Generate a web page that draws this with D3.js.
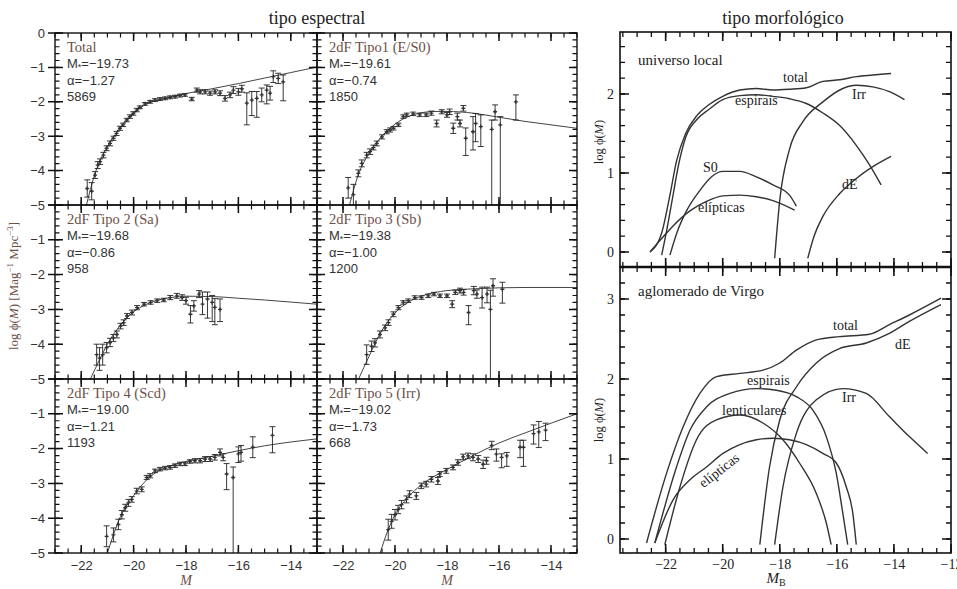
<!DOCTYPE html>
<html><head><meta charset="utf-8">
<script src="https://cdn.jsdelivr.net/npm/d3@7"></script>
<style>body{margin:0;background:#fff}svg{display:block}</style>
</head><body>
<svg id="c" width="957" height="589"></svg>
<script>
// ---------------- DATA ----------------
const panelTitles = ["Total","2dF Tipo1 (E/S0)","2dF Tipo 2 (Sa)","2dF Tipo 3 (Sb)","2dF Tipo 4 (Scd)","2dF Tipo 5 (Irr)"];
const panelMstar = ["−19.73","−19.61","−19.68","−19.38","−19.00","−19.02"];
const panelAlpha = ["−1.27","−0.74","−0.86","−1.00","−1.21","−1.73"];
const panelN = ["5869","1850","958","1200","1193","668"];

const t0M = [-21.77,-21.6,-21.47,-21.37,-21.28,-21.15,-21.03,-20.9,-20.77,-20.65,-20.52,-20.4,-20.26,-20.14,-20.01,-19.88,-19.76,-19.56,-19.37,-19.18,-18.99,-18.8,-18.61,-18.42,-18.23,-18.04,-17.78,-17.59,-17.46,-17.27,-17.08,-16.89,-16.7,-16.51,-16.32,-16.19,-16.0,-15.87,-15.68,-15.49,-15.3,-15.11,-14.92,-14.79,-14.67,-14.48,-14.29];
const t0V = [-4.52,-4.6,-4.13,-3.84,-3.74,-3.55,-3.35,-3.21,-3.06,-2.92,-2.77,-2.67,-2.53,-2.43,-2.34,-2.24,-2.16,-2.06,-2.0,-1.95,-1.92,-1.9,-1.87,-1.85,-1.82,-1.8,-1.92,-1.66,-1.71,-1.71,-1.75,-1.71,-1.75,-1.9,-1.8,-1.66,-1.71,-1.62,-2.04,-1.95,-1.9,-1.8,-1.66,-1.75,-1.27,-1.32,-1.42];
const t0Lo = [0.25,0.25,0.1,0.1,0.08,0.08,0.07,0.07,0.06,0.06,0.06,0.05,0.05,0.05,0.05,0.05,0.04,0.04,0.04,0.04,0.04,0.04,0.04,0.04,0.04,0.04,0.05,0.06,0.06,0.06,0.06,0.06,0.07,0.08,0.08,0.1,0.1,0.1,0.63,0.45,0.55,0.2,0.4,0.2,0.17,0.15,0.55];
const t0Hi = [0.25,0.25,0.1,0.1,0.08,0.08,0.07,0.07,0.06,0.06,0.06,0.05,0.05,0.05,0.05,0.05,0.04,0.04,0.04,0.04,0.04,0.04,0.04,0.04,0.04,0.04,0.05,0.06,0.06,0.06,0.06,0.06,0.07,0.08,0.08,0.1,0.1,0.1,0.3,0.25,0.2,0.2,0.15,0.2,0.17,0.15,0.2];
const f0M = [-21.8,-21.5,-21.0,-20.5,-20.0,-19.5,-19.0,-18.5,-18.0,-17.0,-16.0,-15.0,-14.0,-13.0];
const f0V = [-5.0,-4.15,-3.3,-2.75,-2.33,-2.06,-1.93,-1.84,-1.76,-1.62,-1.47,-1.31,-1.15,-0.99];

const t1M = [-21.8,-21.6,-21.41,-21.28,-21.09,-20.96,-20.83,-20.7,-20.5,-20.32,-20.19,-20.06,-19.87,-19.68,-19.55,-19.3,-19.05,-18.8,-18.6,-18.4,-18.2,-18.0,-17.9,-17.76,-17.6,-17.5,-17.37,-17.28,-17.0,-16.9,-16.7,-16.28,-16.15,-15.95,-15.35];
const t1V = [-4.5,-4.7,-4.08,-3.79,-3.55,-3.45,-3.33,-3.21,-3.02,-2.87,-2.82,-2.77,-2.67,-2.43,-2.38,-2.35,-2.38,-2.38,-2.33,-2.63,-2.29,-2.38,-2.29,-2.77,-2.43,-2.63,-2.19,-3.06,-2.87,-2.63,-2.72,-2.8,-2.29,-2.67,-2.0];
const t1Lo = [0.3,0.3,0.1,0.1,0.08,0.08,0.07,0.07,0.06,0.06,0.06,0.05,0.05,0.05,0.05,0.05,0.05,0.05,0.06,0.1,0.06,0.07,0.08,0.15,0.1,0.1,0.08,0.5,0.53,0.53,0.58,2.2,0.24,2.33,0.53];
const t1Hi = [0.3,0.3,0.1,0.1,0.08,0.08,0.07,0.07,0.06,0.06,0.06,0.05,0.05,0.05,0.05,0.05,0.05,0.05,0.06,0.1,0.06,0.07,0.08,0.15,0.1,0.1,0.08,0.3,0.44,0.29,0.34,0.27,0.2,0.24,0.2];
const f1M = [-21.75,-21.4,-21.0,-20.5,-20.0,-19.5,-19.0,-18.5,-18.0,-17.0,-16.0,-15.0,-14.0,-13.0];
const f1V = [-5.0,-4.1,-3.5,-3.0,-2.65,-2.43,-2.32,-2.28,-2.28,-2.33,-2.45,-2.57,-2.67,-2.77];

const t2M = [-21.41,-21.3,-21.18,-21.03,-20.9,-20.77,-20.64,-20.5,-20.38,-20.25,-20.06,-19.87,-19.6,-19.35,-19.1,-18.85,-18.6,-18.35,-18.15,-18.0,-17.83,-17.7,-17.5,-17.37,-17.18,-17.0,-16.9,-16.7];
const t2V = [-4.3,-4.4,-4.3,-4.1,-3.95,-3.82,-3.72,-3.48,-3.38,-3.19,-3.09,-2.95,-2.85,-2.8,-2.75,-2.73,-2.66,-2.61,-2.66,-2.75,-3.14,-2.9,-2.56,-2.85,-2.7,-2.8,-2.94,-3.0];
const t2Lo = [0.3,0.35,0.3,0.15,0.12,0.1,0.1,0.08,0.08,0.07,0.07,0.06,0.05,0.05,0.05,0.05,0.06,0.07,0.08,0.1,0.25,0.15,0.1,0.3,0.55,0.55,0.5,0.35];
const t2Hi = [0.3,0.3,0.3,0.15,0.12,0.1,0.1,0.08,0.08,0.07,0.07,0.06,0.05,0.05,0.05,0.05,0.06,0.07,0.08,0.1,0.25,0.15,0.1,0.35,0.2,0.2,0.25,0.3];
const f2M = [-21.65,-21.3,-21.0,-20.5,-20.0,-19.5,-19.0,-18.5,-18.0,-17.0,-16.0,-15.0,-14.0,-13.0];
const f2V = [-5.0,-4.45,-4.0,-3.45,-3.07,-2.85,-2.72,-2.65,-2.62,-2.63,-2.68,-2.73,-2.79,-2.85];

const t3M = [-21.09,-20.9,-20.77,-20.58,-20.38,-20.25,-20.06,-19.87,-19.68,-19.49,-19.24,-18.98,-18.72,-18.5,-18.27,-18.0,-17.8,-17.68,-17.5,-17.36,-17.17,-16.97,-16.85,-16.65,-16.46,-16.33,-16.23,-15.87];
const t3V = [-4.3,-4.06,-3.96,-3.72,-3.53,-3.38,-3.14,-2.95,-2.8,-2.75,-2.66,-2.66,-2.61,-2.56,-2.61,-2.61,-2.85,-2.51,-2.46,-2.51,-3.09,-2.46,-2.56,-2.66,-2.56,-3.0,-2.32,-2.42];
const t3Lo = [0.28,0.15,0.12,0.1,0.08,0.08,0.07,0.06,0.05,0.05,0.05,0.05,0.05,0.05,0.05,0.05,0.1,0.06,0.07,0.08,0.35,0.12,0.12,0.3,0.25,2.0,0.3,0.4];
const t3Hi = [0.28,0.15,0.12,0.1,0.08,0.08,0.07,0.06,0.05,0.05,0.05,0.05,0.05,0.05,0.05,0.05,0.1,0.06,0.07,0.08,0.2,0.12,0.12,0.3,0.2,0.55,0.2,0.2];
const f3M = [-21.4,-21.0,-20.5,-20.0,-19.5,-19.0,-18.5,-18.0,-17.0,-16.0,-15.0,-14.0,-13.0];
const f3V = [-5.0,-4.35,-3.6,-3.1,-2.8,-2.62,-2.52,-2.46,-2.41,-2.38,-2.37,-2.37,-2.37];

const t4M = [-21.03,-20.77,-20.58,-20.45,-20.32,-20.2,-20.07,-19.88,-19.69,-19.5,-19.37,-19.18,-18.99,-18.8,-18.61,-18.42,-18.23,-18.04,-17.85,-17.66,-17.46,-17.27,-17.08,-16.9,-16.7,-16.58,-16.45,-16.2,-16.0,-15.9,-15.45,-14.7];
const t4V = [-4.52,-4.48,-4.18,-3.9,-3.7,-3.56,-3.46,-3.22,-3.17,-2.83,-2.78,-2.64,-2.59,-2.56,-2.54,-2.49,-2.44,-2.44,-2.37,-2.35,-2.35,-2.3,-2.3,-2.25,-2.11,-2.25,-2.73,-2.83,-2.15,-2.11,-1.96,-1.62];
const t4Lo = [0.3,0.2,0.15,0.12,0.1,0.1,0.08,0.08,0.07,0.06,0.06,0.05,0.05,0.05,0.05,0.05,0.05,0.05,0.05,0.06,0.06,0.07,0.07,0.08,0.1,0.1,0.45,2.2,0.25,0.25,0.3,0.5];
const t4Hi = [0.3,0.2,0.15,0.12,0.1,0.1,0.08,0.08,0.07,0.06,0.06,0.05,0.05,0.05,0.05,0.05,0.05,0.05,0.05,0.06,0.06,0.07,0.07,0.08,0.1,0.1,0.3,0.3,0.2,0.2,0.3,0.25];
const f4M = [-21.0,-20.5,-20.0,-19.5,-19.0,-18.5,-18.0,-17.0,-16.0,-15.0,-14.0,-13.0];
const f4V = [-5.0,-3.95,-3.35,-2.9,-2.62,-2.47,-2.37,-2.22,-2.06,-1.92,-1.81,-1.72];

const t5M = [-20.26,-20.13,-20.0,-19.88,-19.75,-19.56,-19.44,-19.18,-18.99,-18.8,-18.6,-18.35,-18.28,-18.03,-17.77,-17.58,-17.38,-17.19,-17.0,-16.8,-16.61,-16.48,-16.28,-16.1,-15.9,-15.7,-15.19,-15.06,-14.67,-14.47,-14.21];
const t5V = [-4.33,-4.09,-3.9,-3.75,-3.61,-3.46,-3.31,-3.36,-3.07,-3.02,-2.88,-2.93,-2.73,-2.64,-2.54,-2.4,-2.24,-2.21,-2.25,-2.3,-2.45,-2.35,-1.91,-2.16,-2.25,-2.21,-1.96,-1.96,-1.57,-1.52,-1.47];
const t5Lo = [0.3,0.2,0.15,0.12,0.12,0.1,0.1,0.1,0.08,0.08,0.08,0.1,0.07,0.07,0.07,0.08,0.08,0.08,0.1,0.1,0.12,0.1,0.12,0.2,0.3,0.3,0.3,0.55,0.3,0.45,0.3];
const t5Hi = [0.3,0.2,0.15,0.12,0.12,0.1,0.1,0.1,0.08,0.08,0.08,0.1,0.07,0.07,0.07,0.08,0.08,0.08,0.1,0.1,0.12,0.1,0.12,0.15,0.1,0.1,0.2,0.2,0.25,0.3,0.2];
const f5M = [-20.57,-20.3,-20.0,-19.5,-19.0,-18.5,-18.0,-17.0,-16.0,-15.0,-14.0,-13.0];
const f5V = [-5.0,-4.4,-3.9,-3.4,-3.05,-2.8,-2.6,-2.2,-1.84,-1.55,-1.27,-1.0];

// morphological type: local universe
const lTotM = [-22.55,-22.14,-21.85,-21.62,-21.3,-20.9,-20.5,-20.0,-19.4,-18.82,-18.24,-17.66,-17.07,-16.49,-15.9,-15.32,-14.74,-14.1];
const lTotV = [0,0.24,0.72,1.15,1.5,1.73,1.86,1.97,2.05,2.07,2.05,2.06,2.08,2.16,2.18,2.22,2.24,2.26];
const lSpM = [-22.14,-21.95,-21.75,-21.55,-21.3,-20.9,-20.5,-20.0,-19.4,-18.82,-18.24,-17.66,-17.07,-16.49,-15.9,-15.32,-14.85,-14.45];
const lSpV = [-0.04,0.3,0.7,1.1,1.45,1.68,1.8,1.93,1.98,1.99,1.97,1.94,1.88,1.76,1.6,1.35,1.1,0.85];
const lIrrM = [-18.18,-18.0,-17.66,-17.19,-16.49,-15.79,-15.32,-14.74,-14.16,-13.63];
const lIrrV = [-0.08,0.66,1.3,1.65,1.9,2.07,2.11,2.09,2.03,1.93];
const lDeM = [-17.02,-16.8,-16.49,-15.9,-15.32,-14.74,-14.1];
const lDeV = [-0.08,0.2,0.45,0.74,0.93,1.08,1.21];
const lS0M = [-21.85,-21.6,-21.27,-20.8,-20.4,-19.99,-19.4,-18.82,-18.24,-17.66,-17.42];
const lS0V = [-0.04,0.25,0.52,0.78,0.95,1.02,1.02,0.95,0.85,0.72,0.58];
const lElM = [-22.55,-22.14,-21.74,-21.15,-20.57,-19.99,-19.4,-18.82,-18.24,-17.48];
const lElV = [0,0.17,0.33,0.52,0.64,0.71,0.72,0.7,0.65,0.53];

// Virgo cluster
const vTotM = [-22.67,-21.97,-21.39,-20.8,-20.22,-19.4,-18.59,-18.0,-17.42,-16.72,-15.91,-14.86,-14.16,-13.46,-12.35];
const vTotV = [-0.05,0.82,1.4,1.82,2.03,2.07,2.11,2.2,2.36,2.49,2.53,2.56,2.68,2.8,3.01];
const vDeM = [-18.7,-18.36,-18.0,-17.42,-16.72,-15.91,-14.97,-14.16,-13.46,-12.35];
const vDeV = [-0.07,0.9,1.49,1.9,2.2,2.38,2.45,2.57,2.72,2.93];
const vIrrM = [-18.18,-17.89,-17.42,-16.72,-15.79,-14.97,-14.16,-13.46,-12.82];
const vIrrV = [-0.07,0.65,1.32,1.74,1.88,1.82,1.53,1.28,1.07];
const vSpM = [-22.38,-21.62,-21.15,-20.57,-19.75,-18.82,-18.12,-17.42,-16.84,-16.37,-16.02,-15.79,-15.62];
const vSpV = [-0.05,0.9,1.36,1.65,1.82,1.88,1.86,1.78,1.61,1.28,0.82,0.32,-0.07];
const vLeM = [-22.03,-21.5,-20.92,-20.22,-19.4,-18.59,-17.89,-17.31,-16.72,-16.37,-16.2];
const vLeV = [-0.07,0.65,1.24,1.49,1.55,1.45,1.24,0.95,0.57,0.2,-0.07];
const vElM = [-22.38,-21.74,-21.15,-20.57,-19.99,-19.4,-18.82,-18.24,-17.66,-17.07,-16.49,-16.02,-15.67,-15.44,-15.32];
const vElV = [-0.05,0.49,0.74,0.9,1.07,1.18,1.24,1.26,1.24,1.18,1.07,0.95,0.65,0.32,-0.07];

const xTicksLeft = [-22,-20,-18,-16,-14];
const yTicksLeft = [0,-1,-2,-3,-4,-5];
const xTicksRight = [-22,-20,-18,-16,-14,-12];
const yTicksTop = [0,1,2];
const yTicksBottom = [0,1,2,3];

// ---------------- DRAW ----------------
const SERIF = "'Liberation Serif','Times New Roman',serif";
const SANS = "'Liberation Sans',Arial,sans-serif";
const LBL = "#6e5048";
const svg = d3.select("#c");
const defs = svg.append("defs");
const fmt = d3.format("d");

const panels = [
  {M:t0M,V:t0V,lo:t0Lo,hi:t0Hi,fM:f0M,fV:f0V},
  {M:t1M,V:t1V,lo:t1Lo,hi:t1Hi,fM:f1M,fV:f1V},
  {M:t2M,V:t2V,lo:t2Lo,hi:t2Hi,fM:f2M,fV:f2V},
  {M:t3M,V:t3V,lo:t3Lo,hi:t3Hi,fM:f3M,fV:f3V},
  {M:t4M,V:t4V,lo:t4Lo,hi:t4Hi,fM:f4M,fV:f4V},
  {M:t5M,V:t5V,lo:t5Lo,hi:t5Hi,fM:f5M,fV:f5V}
];
const colX = [[55,317],[317,577]];
const rowY = [[33,205],[205,379],[379,553]];

// tick marks from a scale as one path; len>0 points inward, len<0 outward
function tickMarks(g, scale, side, pos, values, len, w){
  const vert = side==='left'||side==='right';
  const sgn = (side==='left'||side==='top') ? 1 : -1;
  const d = values.map(v=>{
    const s=scale(v);
    return vert ? `M${pos},${s}H${pos+sgn*len}` : `M${s},${pos}V${pos+sgn*len}`;
  }).join("");
  g.append("path").attr("d",d).attr("fill","none").attr("stroke","#111").attr("stroke-width",w||1.2);
}
function labelAxis(g, axis, tx, ty, font, color){
  const a=g.append("g").attr("transform",`translate(${tx},${ty})`).call(axis);
  a.select(".domain").remove();
  a.selectAll(".tick line").remove();
  a.selectAll("text").style("font",font).attr("fill",color);
  return a;
}

panels.forEach((p,i)=>{
  const col=i%2, row=Math.floor(i/2);
  const [x0,x1]=colX[col], [y0,y1]=rowY[row];
  const x=d3.scaleLinear().domain([-23,-13]).range([x0,x1]);
  const y=d3.scaleLinear().domain([-5,0]).range([y1,y0]);
  const g=svg.append("g");
  const cid="clipL"+i;
  defs.append("clipPath").attr("id",cid).append("rect").attr("x",x0).attr("y",y0).attr("width",x1-x0).attr("height",y1-y0);
  const inner=g.append("g").attr("clip-path",`url(#${cid})`);
  inner.append("path").datum(d3.zip(p.fM,p.fV))
    .attr("d",d3.line().x(d=>x(d[0])).y(d=>y(d[1])).curve(d3.curveMonotoneX))
    .attr("fill","none").attr("stroke","#444").attr("stroke-width",1);
  const idx=d3.range(p.M.length);
  inner.append("g").attr("stroke","#222").attr("stroke-width",0.9).attr("fill","none")
    .selectAll("path").data(idx).join("path").attr("d",k=>{
      const xx=x(p.M[k]), ya=y(p.V[k]-p.lo[k]), yb=y(p.V[k]+p.hi[k]);
      return `M${xx},${ya}V${yb}M${xx-3},${ya}H${xx+3}M${xx-3},${yb}H${xx+3}`;
    });
  inner.append("g").selectAll("path").data(idx).join("path")
    .attr("transform",k=>`translate(${x(p.M[k])},${y(p.V[k])})`)
    .attr("d",d3.symbol(d3.symbolCross,9)).attr("fill","#333");
  g.append("rect").attr("x",x0).attr("y",y0).attr("width",x1-x0).attr("height",y1-y0)
    .attr("fill","none").attr("stroke","#111").attr("stroke-width",1.4);
  const yMin=d3.range(-5,0.001,0.2).map(v=>+v.toFixed(2));
  const xMin=d3.range(-23,-12.99,0.5);
  tickMarks(g,y,'left',x0,yTicksLeft,8,1.5);
  tickMarks(g,y,'left',x0,yMin,4.5,1.2);
  tickMarks(g,y,'right',x1,yTicksLeft,8,1.5);
  tickMarks(g,y,'right',x1,yMin,4.5,1.2);
  tickMarks(g,x,'top',y0,xTicksLeft,8,1.5);
  tickMarks(g,x,'top',y0,xMin,4.5,1.2);
  tickMarks(g,x,'bottom',y1,xTicksLeft,8,1.5);
  tickMarks(g,x,'bottom',y1,xMin,4.5,1.2);
  if(col===0){
    tickMarks(g,y,'left',x0,yTicksLeft,-7,1.5);
    labelAxis(g, d3.axisLeft(y).tickValues(row===0?yTicksLeft:yTicksLeft.slice(1)).tickFormat(fmt).tickSize(0).tickPadding(10),
      x0,0,`13px ${SANS}`,"#333");
  }
  if(row===2){
    labelAxis(g, d3.axisBottom(x).tickValues(xTicksLeft).tickFormat(fmt).tickSize(0).tickPadding(8), 0,y1,`13px ${SANS}`,"#333");
    g.append("text").attr("x",(x0+x1)/2).attr("y",585).attr("text-anchor","middle")
      .style("font",`italic 14px ${SERIF}`).attr("fill",LBL).text("M");
  }
  const tx=x0+12;
  g.append("text").attr("x",tx).attr("y",y0+19).style("font",`14.5px ${SERIF}`).attr("fill",LBL).text(panelTitles[i]);
  const t2=g.append("text").attr("x",tx).attr("y",y0+35).style("font",`13px ${SANS}`).attr("fill","#333");
  t2.append("tspan").text("M");
  t2.append("tspan").attr("dy",2).style("font-size","9px").text("*");
  t2.append("tspan").attr("dy",-2).text("=" + panelMstar[i]);
  g.append("text").attr("x",tx).attr("y",y0+52).style("font",`13px ${SANS}`).attr("fill","#333").text("α=" + panelAlpha[i]);
  g.append("text").attr("x",tx).attr("y",y0+68).style("font",`13px ${SANS}`).attr("fill","#333").text(panelN[i]);
});

svg.append("text").attr("x",317).attr("y",24).attr("text-anchor","middle").style("font",`18px ${SERIF}`).attr("fill","#222").text("tipo espectral");
const yl=svg.append("text").attr("transform","translate(18,286) rotate(-90)").attr("text-anchor","middle")
  .style("font",`13px ${SERIF}`).attr("fill",LBL);
yl.append("tspan").text("log ϕ(");
yl.append("tspan").style("font-style","italic").text("M");
yl.append("tspan").text(")  [Mag");
yl.append("tspan").attr("dy",-5).style("font-size","9px").text("−1");
yl.append("tspan").attr("dy",5).text(" Mpc");
yl.append("tspan").attr("dy",-5).style("font-size","9px").text("−3");
yl.append("tspan").attr("dy",5).text("]");

// ---------------- RIGHT ----------------
svg.append("text").attr("x",783).attr("y",24).attr("text-anchor","middle").style("font",`18px ${SERIF}`).attr("fill","#222").text("tipo morfológico");
const RX=[620,951];
const xr=d3.scaleLinear().domain([-23.6,-12]).range(RX);
const subs=[
  {y0:32,y1:267,dom:[-0.19,2.785],ticks:yTicksTop,
   curves:[[lTotM,lTotV],[lSpM,lSpV],[lIrrM,lIrrV],[lDeM,lDeV],[lS0M,lS0V],[lElM,lElV]],
   labels:[["universo local",638,65,15],["total",783,82,14],["espirais",735,105,14],["Irr",852,99,14],["S0",703,172,14],["dE",842,189,14],["elípticas",698,212,14]]},
  {y0:267,y1:553,dom:[-0.175,3.4],ticks:yTicksBottom,
   curves:[[vTotM,vTotV],[vDeM,vDeV],[vIrrM,vIrrV],[vSpM,vSpV],[vLeM,vLeV],[vElM,vElV]],
   labels:[["aglomerado de Virgo",638,296,15],["total",833,330,14],["dE",895,349,14],["espirais",747,385,14],["Irr",842,402,14],["lenticulares",722,415,14]]}
];
subs.forEach((s,si)=>{
  const y=d3.scaleLinear().domain(s.dom).range([s.y1,s.y0]);
  const g=svg.append("g");
  const cid="clipR"+si;
  defs.append("clipPath").attr("id",cid).append("rect").attr("x",RX[0]).attr("y",s.y0).attr("width",RX[1]-RX[0]).attr("height",s.y1-s.y0);
  const inner=g.append("g").attr("clip-path",`url(#${cid})`);
  s.curves.forEach(c=>{
    inner.append("path").datum(d3.zip(c[0],c[1]))
      .attr("d",d3.line().x(d=>xr(d[0])).y(d=>y(d[1])).curve(d3.curveMonotoneX))
      .attr("fill","none").attr("stroke","#333").attr("stroke-width",1.4);
  });
  g.append("rect").attr("x",RX[0]).attr("y",s.y0).attr("width",RX[1]-RX[0]).attr("height",s.y1-s.y0)
    .attr("fill","none").attr("stroke","#111").attr("stroke-width",1.6);
  const yMin=d3.range(Math.ceil(s.dom[0]*5)/5,s.dom[1],0.2).map(v=>+v.toFixed(2));
  const xMin=d3.range(-23.5,-11.99,0.5);
  tickMarks(g,y,'left',RX[0],s.ticks,9,1.6);
  tickMarks(g,y,'left',RX[0],yMin,5,1.3);
  tickMarks(g,y,'right',RX[1],s.ticks,9,1.6);
  tickMarks(g,y,'right',RX[1],yMin,5,1.3);
  tickMarks(g,xr,'top',s.y0,xTicksRight,9,1.6);
  tickMarks(g,xr,'top',s.y0,xMin,5,1.3);
  tickMarks(g,xr,'bottom',s.y1,xTicksRight,9,1.6);
  tickMarks(g,xr,'bottom',s.y1,xMin,5,1.3);
  labelAxis(g, d3.axisLeft(y).tickValues(s.ticks).tickFormat(fmt).tickSize(0).tickPadding(6), RX[0],0,`14px ${SERIF}`,"#222");
  s.labels.forEach(l=>{
    g.append("text").attr("x",l[1]).attr("y",l[2]).style("font",`${l[3]}px ${SERIF}`).attr("fill","#222").text(l[0]);
  });
  const yt=g.append("text").attr("transform",`translate(603,${si===0?142:420}) rotate(-90)`).attr("text-anchor","middle")
    .style("font",`12.5px ${SERIF}`).attr("fill","#222");
  yt.append("tspan").text("log ϕ(");
  yt.append("tspan").style("font-style","italic").text("M");
  yt.append("tspan").text(")");
  if(si===1){
    labelAxis(g, d3.axisBottom(xr).tickValues(xTicksRight).tickFormat(fmt).tickSize(0).tickPadding(6), 0,s.y1,`14px ${SERIF}`,"#222");
    g.append("text").attr("transform","translate(722,474) rotate(-38)").attr("text-anchor","middle")
      .style("font",`14px ${SERIF}`).attr("fill","#222").text("elípticas");
    const mb=g.append("text").attr("x",776).attr("y",583).attr("text-anchor","middle").style("font",`italic 15px ${SERIF}`).attr("fill","#222");
    mb.append("tspan").text("M");
    mb.append("tspan").attr("dy",3).style("font-size","10px").style("font-style","normal").text("B");
  }
});
svg.append("line").attr("x1",RX[0]).attr("x2",RX[1]).attr("y1",267).attr("y2",267).attr("stroke","#111").attr("stroke-width",2.5);
</script>
</body></html>
